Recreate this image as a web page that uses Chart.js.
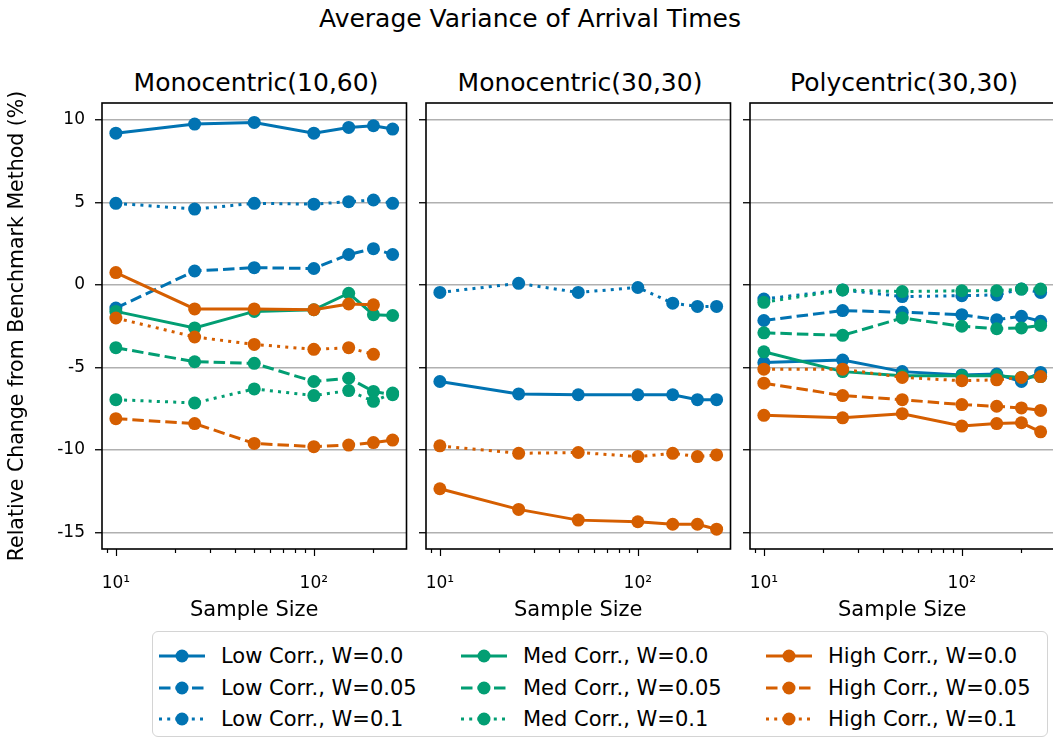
<!DOCTYPE html>
<html>
<head>
  <title>Average Variance of Arrival Times</title>
  <meta charset="utf-8">
  <script src="https://cdn.jsdelivr.net/npm/chart.js"></script>
  <style>
    body { margin: 0; width: 1053px; height: 738px; overflow: hidden; background: #fff;
           font-family: 'DejaVu Sans', sans-serif; color: #000; position: relative; }
    .txt { position: absolute; white-space: nowrap; transform: translate(-50%, -50%); font-size: 25px; }
    canvas { position: absolute; }
    #legend { position: absolute; left: 152px; top: 631px; width: 896px; height: 106px;
              border: 1.5px solid #d4d4d4; border-radius: 6px; box-sizing: border-box; background: #fff; }
    .item { position: absolute; display: flex; align-items: center; font-size: 21px;
            transform: translateY(-50%); white-space: nowrap; }
    .item svg { margin-right: 16px; }
  </style>
</head>
<body>
  <div class="txt" style="left:530px; top:18px">Average Variance of Arrival Times</div>
  <div class="txt" id="t0" style="left:256px; top:82px"></div>
  <div class="txt" id="t1" style="left:580px; top:82px"></div>
  <div class="txt" id="t2" style="left:904px; top:82px"></div>

  <canvas id="c0" width="413" height="570" style="left:0px; top:60px"></canvas>
  <canvas id="c1" width="321" height="570" style="left:416px; top:60px"></canvas>
  <canvas id="c2" width="321" height="570" style="left:740px; top:60px"></canvas>

  <div id="legend"></div>

  <script>
    const sampleSizes = [10, 25, 50, 100, 150, 200, 250];

    const seriesLabels = [
      'Low Corr., W=0.0', 'Low Corr., W=0.05', 'Low Corr., W=0.1',
      'Med Corr., W=0.0', 'Med Corr., W=0.05', 'Med Corr., W=0.1',
      'High Corr., W=0.0', 'High Corr., W=0.05', 'High Corr., W=0.1'
    ];
    const seriesColors = ['#0173b2', '#0173b2', '#0173b2', '#029e73', '#029e73', '#029e73', '#d55e00', '#d55e00', '#d55e00'];
    const seriesDashes = [[], [11.5, 5], [3, 5.2], [], [11.5, 5], [3, 5.2], [], [11.5, 5], [3, 5.2]];

    const panelTitles = ['Monocentric(10,60)', 'Monocentric(30,30)', 'Polycentric(30,30)'];

    // one row per series, in seriesLabels order; null row = series not run for that network
    const mono1060 = [
      [9.2, 9.75, 9.85, 9.2, 9.55, 9.65, 9.45],
      [-1.4, 0.85, 1.05, 1.0, 1.85, 2.2, 1.85],
      [4.95, 4.6, 4.95, 4.9, 5.05, 5.15, 4.95],
      [-1.6, -2.6, -1.6, -1.5, -0.5, -1.8, -1.85],
      [-3.8, -4.65, -4.75, -5.85, -5.65, -6.45, -6.65],
      [-6.95, -7.15, -6.3, -6.7, -6.4, -7.05, -6.55],
      [0.75, -1.45, -1.45, -1.5, -1.15, -1.2, null],
      [-8.1, -8.4, -9.6, -9.8, -9.7, -9.55, -9.4],
      [-2.0, -3.15, -3.6, -3.9, -3.8, -4.2, null]
    ];
    const mono3030 = [
      [-5.85, -6.6, -6.65, -6.65, -6.65, -6.95, -6.95],
      null,
      [-0.45, 0.1, -0.45, -0.15, -1.1, -1.3, -1.3],
      null,
      null,
      null,
      [-12.35, -13.6, -14.25, -14.35, -14.5, -14.5, -14.8],
      null,
      [-9.75, -10.2, -10.15, -10.4, -10.2, -10.4, -10.3]
    ];
    const poly3030 = [
      [-4.7, -4.55, -5.25, -5.45, -5.4, -5.85, -5.3],
      [-2.15, -1.55, -1.65, -1.8, -2.1, -1.9, -2.2],
      [-0.85, -0.3, -0.7, -0.65, -0.6, -0.25, -0.45],
      [-4.05, -5.25, -5.5, -5.5, -5.5, -5.6, -5.55],
      [-2.9, -3.05, -2.0, -2.5, -2.65, -2.6, -2.45],
      [-1.05, -0.3, -0.4, -0.35, -0.35, -0.25, -0.25],
      [-7.9, -8.05, -7.8, -8.55, -8.4, -8.35, -8.9],
      [-5.95, -6.7, -6.95, -7.25, -7.35, -7.45, -7.6],
      [-5.1, -5.1, -5.6, -5.8, -5.75, -5.6, -5.55]
    ];

    const yTicks = [-15, -10, -5, 0, 5, 10];
    const xMajorTicks = [10, 100];
    const xMinorTicks = [9, 20, 30, 40, 50, 60, 70, 80, 90, 200];

    Chart.defaults.font.family = "'DejaVu Sans', sans-serif";
    Chart.defaults.color = '#000';

    // box around the plot area plus log-axis tick marks (long for decades, short otherwise)
    const framePlugin = {
      id: 'frame',
      afterDraw(chart) {
        const { ctx, chartArea: a, scales: { x } } = chart;
        ctx.save();
        ctx.strokeStyle = '#000';
        ctx.lineWidth = 1.2;
        x.ticks.forEach(t => {
          const px = Math.round(x.getPixelForValue(t.value)) + 0.5;
          ctx.beginPath();
          ctx.moveTo(px, a.bottom);
          ctx.lineTo(px, a.bottom + (t.major ? 7 : 4));
          ctx.stroke();
        });
        ctx.lineWidth = 1.6;
        ctx.strokeRect(a.left, a.top, a.right - a.left, a.bottom - a.top);
        ctx.restore();
      }
    };

    function makePanel(idx, rows) {
      const first = idx === 0;
      const yWidth = first ? 102 : 10;
      const datasets = [];
      rows.forEach((row, k) => {
        if (!row) return;
        datasets.push({
          label: seriesLabels[k],
          data: sampleSizes.map((n, i) => ({ x: n, y: row[i] })),
          borderColor: seriesColors[k],
          backgroundColor: seriesColors[k],
          borderDash: seriesDashes[k],
          borderWidth: 3,
          pointRadius: 6.5,
          pointBorderWidth: 0,
          pointBackgroundColor: seriesColors[k],
          tension: 0,
          order: seriesLabels.length - k
        });
      });

      document.getElementById('t' + idx).textContent = panelTitles[idx];

      return new Chart(document.getElementById('c' + idx), {
        type: 'line',
        data: { datasets },
        options: {
          responsive: false,
          animation: false,
          events: [],
          layout: { padding: { top: 43, right: 3, bottom: 0, left: 0 } },
          plugins: { legend: { display: false }, tooltip: { enabled: false } },
          scales: {
            x: {
              type: 'logarithmic',
              min: 8.51,
              max: 293.8,
              grid: { display: false },
              border: { display: false },
              afterBuildTicks: s => {
                s.ticks = xMinorTicks.concat(xMajorTicks).sort((a, b) => a - b)
                  .map(v => ({ value: v, major: xMajorTicks.includes(v) }));
              },
              afterFit: s => { s.height = 81; s.paddingLeft = 0; s.paddingRight = 0; },
              ticks: {
                autoSkip: false,
                maxRotation: 0,
                padding: 16,
                font: { size: 17 },
                callback: v => v === 10 ? '10¹' : v === 100 ? '10²' : ''
              },
              title: { display: true, text: 'Sample Size', font: { size: 21 }, padding: { top: 0, bottom: 7 } }
            },
            y: {
              min: -16.0,
              max: 11.03,
              afterBuildTicks: s => { s.ticks = yTicks.map(v => ({ value: v })); },
              afterFit: s => { s.width = yWidth; s.paddingTop = 0; s.paddingBottom = 0; },
              grid: { color: '#b0b0b0', lineWidth: 1.5, tickColor: '#000', tickLength: 7, tickWidth: 1.3 },
              border: { display: false },
              ticks: { display: first, padding: 10, font: { size: 17 } },
              title: {
                display: first,
                text: 'Relative Change from Benchmark Method (%)',
                font: { size: 20.5 },
                padding: { top: 5, bottom: 0 }
              }
            }
          }
        },
        plugins: [framePlugin]
      });
    }

    makePanel(0, mono1060);
    makePanel(1, mono3030);
    makePanel(2, poly3030);

    // legend: three columns (Low / Med / High), rows by W
    const legend = document.getElementById('legend');
    const colX = [6, 308, 613];
    const rowY = [24, 56, 87];
    seriesLabels.forEach((label, k) => {
      const item = document.createElement('div');
      item.className = 'item';
      item.style.left = colX[Math.floor(k / 3)] + 'px';
      item.style.top = rowY[k % 3] + 'px';
      const dash = seriesDashes[k].length ? seriesDashes[k].join(' ') : 'none';
      item.innerHTML =
        '<svg width="46" height="16">' +
        '<line x1="0" y1="8" x2="46" y2="8" stroke="' + seriesColors[k] + '" stroke-width="3" stroke-dasharray="' + dash + '"/>' +
        '<circle cx="23" cy="8" r="6.5" fill="' + seriesColors[k] + '"/></svg>' +
        '<span>' + label + '</span>';
      legend.appendChild(item);
    });
  </script>
</body>
</html>
